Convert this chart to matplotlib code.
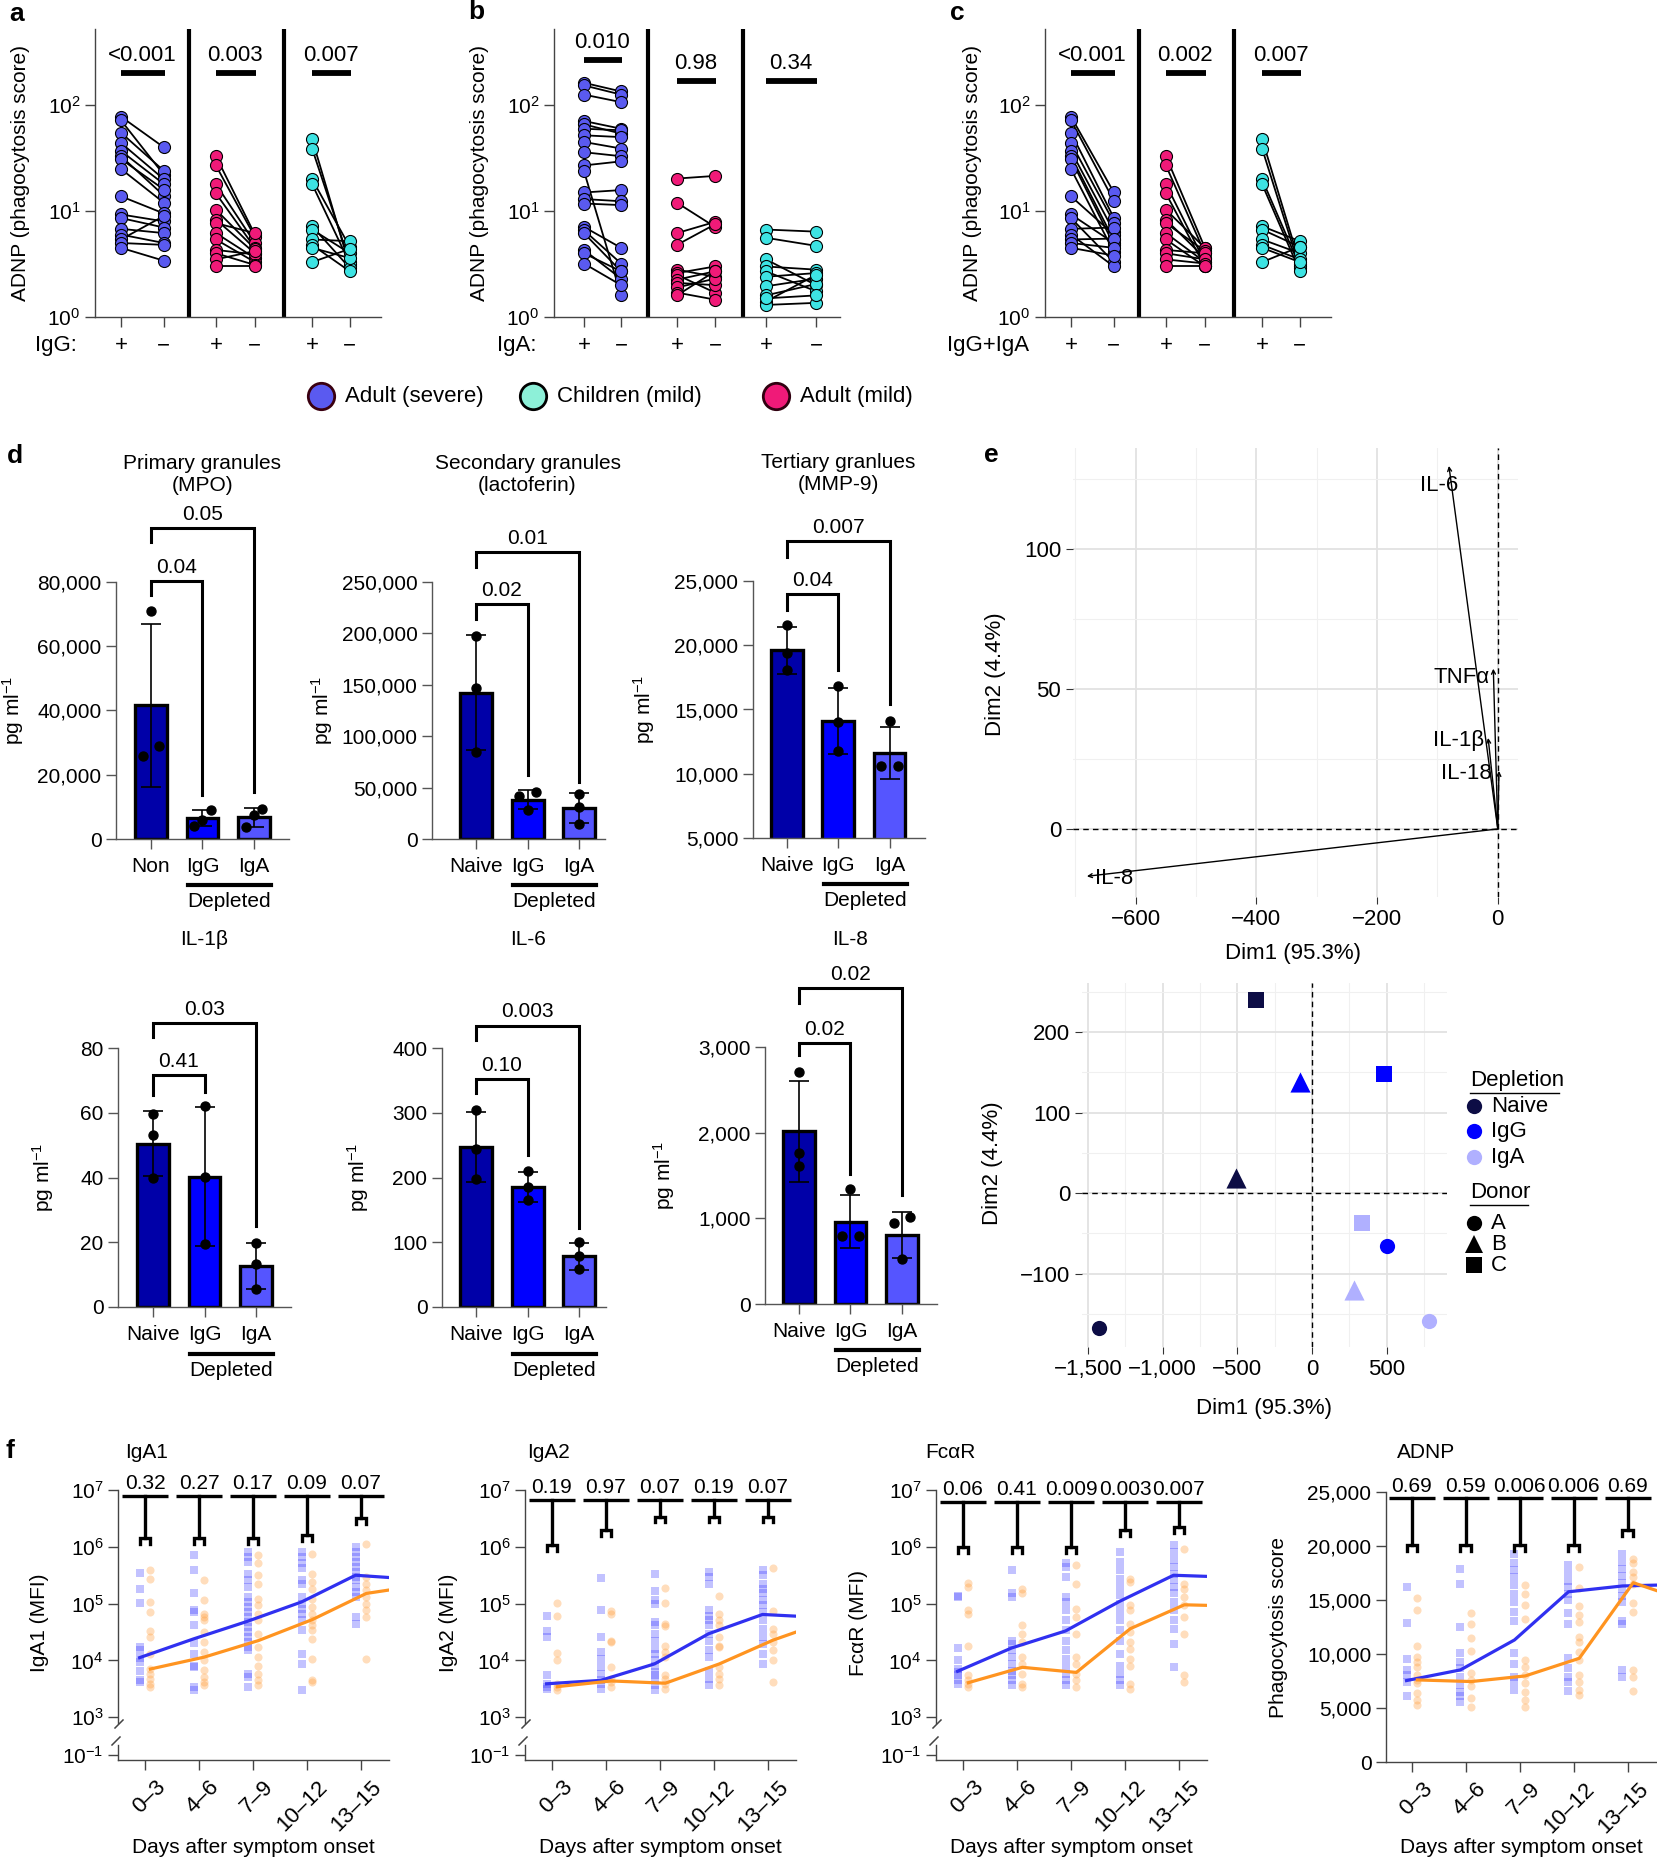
import logging
import numpy as np
import matplotlib
matplotlib.use("Agg")
import matplotlib.pyplot as plt
from matplotlib.ticker import FuncFormatter, NullLocator
from matplotlib.transforms import ScaledTranslation

logging.getLogger("matplotlib.font_manager").setLevel(logging.ERROR)

W, H = 1657, 1860
plt.rcParams['font.family'] = ['Liberation Sans', 'DejaVu Sans']
plt.rcParams['font.size'] = 15
plt.rcParams['mathtext.fontset'] = 'custom'
plt.rcParams['mathtext.rm'] = 'Liberation Sans'
plt.rcParams['mathtext.it'] = 'Liberation Sans:italic'
NARROW = ['Liberation Sans Narrow', 'Liberation Sans', 'DejaVu Sans']
FS = 15

# ---------------- a-c : ADNP, paired +/- depletion ----------------
sev_pos = [78, 72, 55, 44, 37, 33, 31, 25, 13.8, 9.3, 8.6, 6.8, 6.0, 5.4, 5.0, 4.5]
mild_pos = [33, 27, 18, 14.7, 10.3, 8.3, 7.7, 6.2, 5.4, 4.3, 4.0, 3.5, 3.0]
child_pos = [48, 39, 20, 18, 7.2, 6.7, 5.4, 4.8, 4.5, 3.3]

igg_sev_neg = [40, 22, 24, 20, 18, 14, 16, 12, 9.5, 8.0, 7.0, 6.2, 5.0, 9.0, 4.8, 3.4]
igg_mild_neg = [6.0, 5.7, 5.0, 4.5, 4.4, 4.0, 6.2, 3.6, 3.3, 3.9, 3.1, 4.2, 3.0]
igg_child_neg = [3.0, 3.3, 4.6, 3.2, 2.9, 4.0, 5.2, 2.7, 3.6, 4.4]

iga_sev_pos = [163, 154, 126, 71, 66, 60, 52, 45, 36, 27, 24, 15, 13, 11.8, 7.1, 6.6, 6.2, 4.3, 4.0, 3.2]
iga_sev_neg = [135, 126, 107, 60, 54, 58, 50, 39, 33, 29.5, 1.6, 15.8, 12.4, 11.4, 4.5, 3.2, 2.7, 2.3, 2.7, 2.0]
iga_mild_pos = [20.3, 12, 6.2, 4.8, 2.8, 2.6, 2.5, 2.25, 2.1, 1.9, 1.7, 1.6]
iga_mild_neg = [21.5, 7.1, 7.9, 7.5, 2.4, 3.0, 1.7, 2.7, 2.0, 2.3, 1.46, 2.7]
iga_child_pos = [6.7, 5.6, 3.5, 3.0, 2.7, 2.4, 1.95, 1.6, 1.4, 1.3, 1.5]
iga_child_neg = [6.4, 4.7, 2.0, 2.8, 1.75, 2.6, 2.3, 2.05, 2.5, 1.36, 1.6]

both_sev_neg = [15, 12.5, 8.6, 7.8, 6.4, 5.3, 4.8, 4.1, 6.0, 5.0, 3.3, 7.0, 3.0, 5.5, 4.5, 3.8]
both_mild_neg = [4.5, 4.0, 3.3, 3.0, 4.5, 3.6, 4.2, 3.3, 3.0, 4.0, 3.5, 3.2, 3.0]
both_child_neg = [3.2, 2.9, 3.0, 2.7, 5.2, 4.6, 4.0, 3.5, 3.3, 4.6]

p_igg = ['<0.001', '0.003', '0.007']
p_iga = ['0.010', '0.98', '0.34']
p_both = ['<0.001', '0.002', '0.007']

# ---------------- d : granule proteins and cytokines (pg/ml) ----------------
mpo_mean = [41600, 6500, 6800]
mpo_sd = [25300, 2600, 3000]
mpo_dots = [[70900, 29000, 25900], [9100, 6000, 4100], [9300, 7500, 3600]]
lacto_mean = [142300, 38200, 30000]
lacto_sd = [56000, 9500, 14500]
lacto_dots = [[197600, 146500, 85100], [46200, 41400, 28500], [44000, 31000, 15000]]
mmp9_mean = [19600, 14100, 11600]
mmp9_sd = [1800, 2600, 2000]
mmp9_dots = [[21600, 19400, 18050], [16800, 14000, 11760], [14100, 10600, 10600]]
il1b_mean = [50.4, 40.2, 12.7]
il1b_sd = [10.0, 21.5, 7.1]
il1b_dots = [[59.6, 53.1, 40.0], [62.2, 40.2, 19.5], [19.9, 13.4, 5.7]]
il6_mean = [247.7, 185.8, 78]
il6_sd = [54, 23, 21]
il6_dots = [[304.5, 244.6, 197.2], [210.6, 185.8, 165.2], [100, 78, 58]]
il8_mean = [2017, 962, 805]
il8_sd = [590, 314, 265]
il8_dots = [[2708, 1768, 1611], [1340, 791, 791], [1019, 948, 520]]

# bracket: (left bar, right bar, top, left leg end, right leg end, p)
mpo_br = [(0, 1, 80300, 75800, 13800, '0.04'), (0, 2, 96900, 92400, 14500, '0.05')]
lacto_br = [(0, 1, 228300, 214400, 62400, '0.02'), (0, 2, 279100, 264600, 55000, '0.01')]
mmp9_br = [(0, 1, 24000, 22760, 18100, '0.04'), (0, 2, 28100, 26900, 15400, '0.007')]
il1b_br = [(0, 1, 71.7, 65.5, 66.5, '0.41'), (0, 2, 87.7, 83.3, 25.0, '0.03')]
il6_br = [(0, 1, 352, 330, 235, '0.10'), (0, 2, 434.6, 413, 122, '0.003')]
il8_br = [(0, 1, 3050, 2907, 1518, '0.02'), (0, 2, 3692, 3514, 1269, '0.02')]

# ---------------- e : PCA ----------------
load_names = ['IL-6', 'TNFα', 'IL-1β', 'IL-18', 'IL-8']
load_x = [-81, -7.4, -16, 2, -681]
load_y = [129.6, 57.2, 32.5, 20.7, -16.9]
pca_x = [-1429, -512, -372, 500, -80, 479, 783, 283, 336]
pca_y = [-168, 18.6, 240, -65, 138, 148, -159, -120, -37]
pca_depl = ['Naive', 'Naive', 'Naive', 'IgG', 'IgG', 'IgG', 'IgA', 'IgA', 'IgA']
pca_donor = ['A', 'B', 'C', 'A', 'B', 'C', 'A', 'B', 'C']

# ---------------- f : time course (log10 MFI for IgA1/IgA2/FcaR) ----------------
days = ['0–3', '4–6', '7–9', '10–12', '13–15']
iga1_blue = [[5.54, 5.25, 5.01, 4.24, 4.18, 4.05, 3.97, 3.81, 3.66, 3.62],
             [5.86, 5.59, 5.19, 4.89, 4.85, 4.63, 4.31, 4.12, 3.91, 3.88, 3.53, 3.48],
             [5.91, 5.82, 5.74, 5.53, 5.41, 5.29, 5.12, 5.03, 4.94, 4.85, 4.76, 4.68, 4.59, 4.50,
              4.41, 4.32, 4.24, 4.18, 3.76, 3.71, 3.53],
             [5.91, 5.82, 5.71, 5.62, 5.41, 5.35, 5.12, 5.0, 4.91, 4.82, 4.71, 4.53, 4.12, 3.94, 3.48],
             [6.0, 5.91, 5.82, 5.74, 5.65, 5.56, 5.47, 5.41, 5.29, 5.21, 5.12, 4.76, 4.65]]
iga1_orange = [[5.60, 5.44, 5.03, 4.85, 4.52, 4.42, 4.12, 3.85, 3.76, 3.68, 3.59, 3.54],
               [5.42, 5.07, 4.81, 4.76, 4.71, 4.50, 4.32, 4.15, 4.0, 3.84, 3.71, 3.62, 3.56],
               [5.85, 5.71, 5.50, 5.35, 5.09, 4.97, 4.82, 4.71, 4.47, 4.24, 4.06, 3.91, 3.76, 3.65, 3.56],
               [5.88, 5.53, 5.38, 5.26, 5.09, 4.94, 4.82, 4.71, 4.62, 4.53, 4.38, 4.03, 3.65, 3.62],
               [6.05, 5.47, 5.35, 5.24, 5.12, 5.0, 4.88, 4.76, 4.03]]
iga1_blue_line = [4.05, 4.38, 4.69, 5.03, 5.50, 5.46]
iga1_orange_line = [3.85, 4.06, 4.35, 4.72, 5.18, 5.24]
iga1_caps = [6.15, 6.15, 6.15, 6.2, 6.5]
iga1_p = ['0.32', '0.27', '0.17', '0.09', '0.07']

iga2_blue = [[4.78, 4.52, 4.42, 3.74, 3.59, 3.54, 3.50],
             [5.45, 4.89, 4.42, 4.15, 4.03, 3.88, 3.76, 3.65, 3.59, 3.50],
             [5.53, 5.22, 5.06, 4.99, 4.68, 4.62, 4.47, 4.35, 4.21, 4.12, 4.0, 3.91, 3.79, 3.74,
              3.65, 3.56, 3.48],
             [5.56, 5.47, 5.35, 4.88, 4.79, 4.71, 4.62, 4.47, 4.35, 4.18, 4.06, 3.82, 3.68, 3.56],
             [5.59, 5.50, 5.35, 5.26, 5.18, 5.06, 4.97, 4.85, 4.71, 4.56, 4.41, 4.29, 4.12, 3.94]]
iga2_orange = [[5.01, 4.79, 4.13, 4.0, 3.59, 3.53, 3.48],
               [4.87, 4.81, 4.35, 4.32, 3.89, 3.68, 3.62, 3.53],
               [5.28, 5.01, 4.65, 4.60, 4.26, 4.15, 4.06, 3.74, 3.68, 3.59, 3.50],
               [5.13, 4.81, 4.72, 4.62, 4.41, 4.26, 4.24, 3.88, 3.76, 3.68, 3.56],
               [5.63, 4.87, 4.56, 4.47, 4.32, 4.18, 4.0, 3.62]]
iga2_blue_line = [3.59, 3.65, 3.94, 4.47, 4.81, 4.78]
iga2_orange_line = [3.54, 3.64, 3.60, 3.94, 4.36, 4.50]
iga2_caps = [6.03, 6.29, 6.53, 6.53, 6.53]
iga2_p = ['0.19', '0.97', '0.07', '0.19', '0.07']

fcar_blue = [[5.13, 5.11, 4.22, 4.01, 3.85, 3.79, 3.74, 3.65, 3.59],
             [5.60, 5.18, 5.12, 4.35, 4.29, 4.18, 4.06, 3.94, 3.82, 3.74, 3.65, 3.56],
             [5.71, 5.65, 5.47, 5.12, 5.03, 4.88, 4.71, 4.53, 4.35, 4.18, 4.03, 3.88, 3.76, 3.65, 3.56],
             [5.91, 5.74, 5.59, 5.44, 5.29, 5.15, 5.0, 4.85, 4.71, 4.53, 4.35, 4.12, 3.91, 3.76,
              3.65, 3.56],
             [6.03, 5.91, 5.76, 5.65, 5.53, 5.41, 5.29, 5.18, 5.03, 4.88, 4.71, 4.56, 4.29, 3.88]]
fcar_orange = [[5.36, 5.29, 4.88, 4.82, 4.26, 3.74, 3.65, 3.58, 3.53],
               [5.26, 5.19, 4.62, 4.47, 4.32, 4.06, 3.94, 3.76, 3.59, 3.54],
               [5.68, 5.34, 4.91, 4.76, 4.47, 4.06, 3.94, 3.76, 3.65, 3.54],
               [5.44, 5.38, 4.97, 4.88, 4.65, 4.50, 4.32, 4.21, 4.03, 3.91, 3.59, 3.50],
               [5.97, 5.35, 5.26, 5.12, 4.97, 4.76, 4.47, 3.74, 3.62]]
fcar_blue_line = [3.81, 4.22, 4.52, 5.04, 5.50, 5.48]
fcar_orange_line = [3.61, 3.88, 3.79, 4.56, 4.98, 4.97]
fcar_caps = [6.0, 6.0, 6.0, 6.29, 6.35]
fcar_p = ['0.06', '0.41', '0.009', '0.003', '0.007']

adnp_blue = [[16200, 12900, 9500, 8500, 8100, 7450, 6070],
             [17900, 16500, 12500, 10100, 9300, 8700, 7900, 7100, 6500, 6070, 5600],
             [19300, 18400, 17800, 17100, 16400, 15600, 14800, 13900, 13100, 10100, 9100, 7900, 7450, 6700],
             [18200, 17500, 16800, 16200, 15600, 15000, 13800, 12800, 9600, 8700, 7900, 7450, 6600],
             [19300, 18500, 17900, 17200, 16600, 16000, 15400, 14800, 13100, 12800, 8500, 7900]]
adnp_orange = [[15200, 14100, 10700, 9760, 9300, 8840, 8070, 7600, 7300, 6400, 5760, 5300],
               [13800, 12800, 11500, 10300, 8200, 7600, 7000, 5900, 5100],
               [16400, 15600, 14500, 13200, 9450, 8800, 8070, 7300, 6500, 5760, 5100],
               [18100, 16100, 14400, 13600, 13000, 11600, 11100, 10200, 9450, 8070, 7450, 6700, 6200],
               [18800, 18400, 17600, 17100, 16500, 14700, 13900, 8500, 7900, 6600]]
adnp_blue_line = [7540, 8530, 11300, 15760, 16300, 16380]
adnp_orange_line = [7600, 7450, 7970, 9600, 16600, 15860]
adnp_caps = [20070, 20070, 20070, 20070, 21520]
adnp_p = ['0.69', '0.59', '0.006', '0.006', '0.69']

# ---------------- colours ----------------
SEV, CHILD, MILD = '#5A5AF0', '#3DE3E3', '#F01A78'
BAR_COLS = ['#0000A8', '#0000FF', '#5555FF']
PCA_COLS = {'Naive': '#0D0D45', 'IgG': '#0000FF', 'IgA': '#B0B0FF'}
PCA_MARK = {'A': 'o', 'B': '^', 'C': 's'}
PCA_SIZE = {'A': 120, 'B': 210, 'C': 120}
BLUE_F, ORANGE_F = '#3535FF', '#FFA040'
BLUE_L, ORANGE_L = '#3030F0', '#FF9420'

fig = plt.figure(figsize=(W / 100, H / 100), dpi=100)


def px_axes(x0, y0, x1, y1):
    return fig.add_axes([x0 / W, 1 - y1 / H, (x1 - x0) / W, (y1 - y0) / H])


def clean(ax, color='#444444'):
    for side in ('top', 'right'):
        ax.spines[side].set_visible(False)
    for side in ('left', 'bottom'):
        ax.spines[side].set_color(color)
        ax.spines[side].set_linewidth(1.0)
    ax.tick_params(direction='out', length=7, width=1.0, color=color, labelsize=FS)


comma = FuncFormatter(lambda v, _: f'{v:,.0f}'.replace('-', '−'))

# ---------------- panels a-c ----------------
pairs_ac = [(1.0, 2.65), (4.65, 6.15), (8.35, 9.8)]
pairs_b = [(1.15, 2.58), (4.73, 6.19), (8.15, 10.08)]


def paired(x0, groups, pairs, bar_y, pvals, lab_x):
    ax = px_axes(x0, 29, x0 + 286, 317)
    clean(ax)
    ax.set_yscale('log')
    ax.set_ylim(1, 10 ** 2.72)
    ax.set_xlim(0, 11)
    ax.set_yticks([1, 10, 100])
    ax.yaxis.set_minor_locator(NullLocator())
    ticks = []
    for (pos, neg), col, (xp, xn), by, p in zip(groups, [SEV, MILD, CHILD], pairs, bar_y, pvals):
        for a, b in zip(pos, neg):
            ax.plot([xp, xn], [a, b], color='black', lw=1.3, zorder=2)
        ax.scatter([xp] * len(pos), pos, s=75, color=col, edgecolor='black', lw=0.8, zorder=3)
        ax.scatter([xn] * len(neg), neg, s=75, color=col, edgecolor='black', lw=0.8, zorder=3)
        ax.plot([xp, xn + 0.05], [by, by], color='black', lw=4.2, solid_capstyle='butt', clip_on=False)
        ax.annotate(p, ((xp + xn) / 2, by), xytext=(0, 5), textcoords='offset points',
                    ha='center', va='bottom', fontsize=16, annotation_clip=False)
        ticks += [xp, xn]
    for xs in (3.63, 7.28):
        ax.axvline(xs, color='black', lw=3)
    ax.set_xticks(ticks)
    ax.set_xticklabels(['+', '−'] * 3, fontsize=16)
    ax.tick_params(axis='x', pad=6)
    ax.set_ylabel('ADNP (phagocytosis score)', fontsize=FS)
    ax.yaxis.set_label_coords(lab_x, 0.5)


paired(95, [(sev_pos, igg_sev_neg), (mild_pos, igg_mild_neg), (child_pos, igg_child_neg)],
       pairs_ac, [200, 200, 200], p_igg, -0.228)
paired(554, [(iga_sev_pos, iga_sev_neg), (iga_mild_pos, iga_mild_neg), (iga_child_pos, iga_child_neg)],
       pairs_b, [269, 170, 170], p_iga, -0.227)
paired(1045, [(sev_pos, both_sev_neg), (mild_pos, both_mild_neg), (child_pos, both_child_neg)],
       pairs_ac, [200, 200, 200], p_both, -0.22)

# ---------------- panel d ----------------


def spread(vals, span):
    vals = np.asarray(vals, float)
    off = np.zeros(len(vals))
    order = np.argsort(vals)
    clusters, cur = [], [order[0]]
    for k in order[1:]:
        if vals[k] - vals[cur[-1]] < 0.05 * span:
            cur.append(k)
        else:
            clusters.append(cur)
            cur = [k]
    clusters.append(cur)
    for c in clusters:
        if len(c) > 1:
            off[c] = np.linspace(-0.16, 0.16, len(c))
    return off


def bars(rect, xlim, ylim, yticks, first, means, sds, dots, brackets, title, ylab_x):
    ax = px_axes(*rect)
    clean(ax, '#555555')
    xs = np.arange(3)
    ax.bar(xs, means, width=0.62, color=BAR_COLS, edgecolor='black', lw=2.4, zorder=2)
    ax.errorbar(xs, means, yerr=sds, fmt='none', ecolor='black', elinewidth=1.2,
                capsize=7, capthick=1.2, zorder=3)
    span = ylim[1] - ylim[0]
    for x, d in zip(xs, dots):
        ax.scatter(x + spread(d, span), d, s=42, color='black', zorder=4)
    for i, j, top, lb, rb, p in brackets:
        ax.plot([i, i, j, j], [lb, top, top, rb], color='black', lw=2.2, clip_on=False,
                solid_joinstyle='miter')
        ax.annotate(p, ((i + j) / 2, top), xytext=(0, 3), textcoords='offset points',
                    ha='center', va='bottom', fontsize=FS, annotation_clip=False)
    ax.set_xlim(*xlim)
    ax.set_ylim(*ylim)
    ax.set_yticks(yticks)
    ax.yaxis.set_major_formatter(comma)
    ax.set_xticks(xs)
    ax.set_xticklabels([first, 'IgG', 'IgA'], fontsize=FS)
    ax.tick_params(axis='x', pad=6)
    tr = ax.get_xaxis_transform()
    ax.plot([0.72, 2.33], [-0.18, -0.18], color='black', lw=3, transform=tr, clip_on=False)
    ax.text(1.52, -0.245, 'Depleted', transform=tr, ha='center', va='center', fontsize=FS)
    ax.text(1, 1.42, title, transform=tr, ha='center', va='center', fontsize=FS, linespacing=1.2)
    ax.set_ylabel('pg ml$^{-1}$', fontsize=FS)
    ax.yaxis.set_label_coords(ylab_x, 0.5)


bars((116, 582, 289, 839), (-0.68, 2.68), (0, 80000), range(0, 80001, 20000), 'Non',
     mpo_mean, mpo_sd, mpo_dots, mpo_br, 'Primary granules\n(MPO)', -0.52)
bars((432, 582, 605, 839), (-0.85, 2.5), (0, 250000), range(0, 250001, 50000), 'Naive',
     lacto_mean, lacto_sd, lacto_dots, lacto_br, 'Secondary granules\n(lactoferin)', -0.56)
bars((753, 581, 925, 838), (-0.66, 2.69), (5000, 25000), range(5000, 25001, 5000), 'Naive',
     mmp9_mean, mmp9_sd, mmp9_dots, mmp9_br, 'Tertiary granlues\n(MMP-9)', -0.56)
bars((118, 1048, 291, 1307), (-0.68, 2.68), (0, 80), range(0, 81, 20), 'Naive',
     il1b_mean, il1b_sd, il1b_dots, il1b_br, 'IL-1β', -0.36)
bars((442, 1048, 606, 1307), (-0.66, 2.52), (0, 400), range(0, 401, 100), 'Naive',
     il6_mean, il6_sd, il6_dots, il6_br, 'IL-6', -0.43)
bars((765, 1047, 937, 1304), (-0.66, 2.68), (0, 3000), range(0, 3001, 1000), 'Naive',
     il8_mean, il8_sd, il8_dots, il8_br, 'IL-8', -0.51)

# ---------------- panel e ----------------


def gg(ax, xmaj, xmin, ymaj, ymin):
    for s in ax.spines.values():
        s.set_visible(False)
    ax.set_xticks(xmaj)
    ax.set_xticks(xmin, minor=True)
    ax.set_yticks(ymaj)
    ax.set_yticks(ymin, minor=True)
    ax.grid(True, which='major', color='#E2E2E2', lw=1.3)
    ax.grid(True, which='minor', color='#F0F0F0', lw=0.8)
    ax.set_axisbelow(True)
    ax.tick_params(which='major', length=5, width=0.8, color='#333333', labelsize=16)
    ax.tick_params(which='minor', length=0)
    ax.axhline(0, color='black', ls=(0, (4, 3)), lw=1)
    ax.axvline(0, color='black', ls=(0, (4, 3)), lw=1)
    ax.xaxis.set_major_formatter(comma)
    ax.yaxis.set_major_formatter(comma)
    plt.setp(ax.get_xticklabels() + ax.get_yticklabels(), family=NARROW)
    ax.set_xlabel('Dim1 (95.3%)', fontsize=16, family=NARROW)
    ax.set_ylabel('Dim2 (4.4%)', fontsize=16, family=NARROW)


ae = px_axes(1073, 448, 1518, 897)
ae.set_xlim(-704, 33.5)
ae.set_ylim(-24.3, 136)
gg(ae, [-600, -400, -200, 0], [-700, -500, -300, -100], [0, 50, 100], [25, 75, 125])
ae.xaxis.set_label_coords(0.494, -0.102)
ae.yaxis.set_label_coords(-0.15, 0.497)
lab_off = [(-10, -20), (-32, -9), (-30, -3), (-33, -3), (27, -2)]
for name, x, y, (dx, dy) in zip(load_names, load_x, load_y, lab_off):
    ae.annotate('', xy=(x, y), xytext=(0, 0),
                arrowprops=dict(arrowstyle='->', color='black', lw=1.0, shrinkA=0, shrinkB=0,
                                mutation_scale=7))
    ae.annotate(name, (x, y), xytext=(dx, dy), textcoords='offset pixels', ha='center',
                va='center', fontsize=16, family=NARROW)

be = px_axes(1082, 983, 1447, 1347)
be.set_xlim(-1540, 904)
be.set_ylim(-191, 261)
gg(be, [-1500, -1000, -500, 0, 500], [-1250, -750, -250, 250, 750],
   [-100, 0, 100, 200], [-150, -50, 50, 150, 250])
be.xaxis.set_label_coords(0.5, -0.14)
be.yaxis.set_label_coords(-0.216, 0.505)
for x, y, dpl, dn in zip(pca_x, pca_y, pca_depl, pca_donor):
    be.scatter(x, y, s=PCA_SIZE[dn], marker=PCA_MARK[dn], color=PCA_COLS[dpl], lw=0, zorder=3)

# ---------------- panel f ----------------


def trend(ax, blue, orange, bl, ol, conv, top, caps, drop, pvals):
    xmax = ax.get_xlim()[1]
    for i, (b, o) in enumerate(zip(blue, orange)):
        ax.scatter(np.full(len(b), i - 0.1), conv(b), marker='s', s=28, color=BLUE_F,
                   alpha=0.3, lw=0, zorder=2)
        ax.scatter(np.full(len(o), i + 0.1), conv(o), marker='o', s=34, color=ORANGE_F,
                   alpha=0.35, lw=0, zorder=2)
    xs = np.arange(5)
    ax.plot(np.r_[xs - 0.1, xmax], conv(bl), color=BLUE_L, lw=2.3, zorder=3)
    ax.plot(np.r_[xs + 0.1, xmax], conv(ol), color=ORANGE_L, lw=2.3, zorder=3)
    t = conv(top)
    for i, (c, p) in enumerate(zip(caps, pvals)):
        cv, lo = conv(c), conv(drop(c))
        ax.plot([i - 0.42, i + 0.42], [t, t], color='black', lw=2.4, solid_capstyle='butt',
                clip_on=False)
        ax.plot([i, i], [t, cv], color='black', lw=2.4, clip_on=False)
        ax.plot([i - 0.1, i - 0.1, i + 0.1, i + 0.1], [lo, cv, cv, lo], color='black', lw=2.4,
                solid_joinstyle='miter', clip_on=False)
        ax.annotate(p, (i, t), xytext=(0, 2), textcoords='offset points', ha='center',
                    va='bottom', fontsize=FS, annotation_clip=False)


def day_ticks(ax):
    ax.set_xticks(range(5))
    ax.set_xticklabels(days, rotation=45, ha='right', va='top', rotation_mode='anchor', fontsize=16)
    for lbl in ax.get_xticklabels():
        lbl.set_transform(lbl.get_transform() + ScaledTranslation(0.1, -0.02, fig.dpi_scale_trans))
    ax.set_xlabel('Days after symptom onset', fontsize=FS)


def log_panel(x0, blue, orange, bl, ol, top, caps, pvals, ylabel, lab_x):
    x1 = x0 + 271
    main = px_axes(x0, 1490, x1, 1723)
    low = px_axes(x0, 1745, x1, 1760)
    for ax in (main, low):
        clean(ax)
        ax.set_yscale('log')
        ax.set_xlim(-0.5, 4.52)
    main.spines['bottom'].set_visible(False)
    main.set_ylim(10 ** 2.9, 1e7)
    main.set_yticks([1e3, 1e4, 1e5, 1e6, 1e7])
    main.yaxis.set_minor_locator(NullLocator())
    main.set_xticks([])
    low.set_ylim(10 ** -1.088, 10 ** -0.824)
    low.set_yticks([0.1])
    low.yaxis.set_minor_locator(NullLocator())
    trend(main, blue, orange, bl, ol, lambda v: 10 ** np.asarray(v, float), top, caps,
          lambda c: c - 0.1, pvals)
    main.set_ylabel(ylabel, fontsize=FS)
    main.yaxis.set_label_coords(lab_x, 0.43)
    day_ticks(low)
    low.xaxis.set_label_coords(0.5, -5.2)


log_panel(118, iga1_blue, iga1_orange, iga1_blue_line, iga1_orange_line, 6.89, iga1_caps,
          iga1_p, 'IgA1 (MFI)', -0.255)
log_panel(525, iga2_blue, iga2_orange, iga2_blue_line, iga2_orange_line, 6.82, iga2_caps,
          iga2_p, 'IgA2 (MFI)', -0.247)
log_panel(936, fcar_blue, fcar_orange, fcar_blue_line, fcar_orange_line, 6.79, fcar_caps,
          fcar_p, 'FcαR (MFI)', -0.25)

ad = px_axes(1386, 1492, 1657, 1762)
clean(ad)
ad.set_xlim(-0.48, 4.54)
ad.set_ylim(0, 25000)
ad.set_yticks(range(0, 25001, 5000))
ad.yaxis.set_major_formatter(comma)
trend(ad, adnp_blue, adnp_orange, adnp_blue_line, adnp_orange_line, lambda v: np.asarray(v, float),
      24400, adnp_caps, lambda c: c - 550, adnp_p)
ad.set_ylabel('Phagocytosis score', fontsize=FS)
ad.yaxis.set_label_coords(-0.36, 0.5)
day_ticks(ad)
ad.xaxis.set_label_coords(0.5, -0.28)

# ---------------- overlay: letters, legends, axis breaks ----------------
ov = fig.add_axes([0, 0, 1, 1])
ov.set_xlim(0, W)
ov.set_ylim(H, 0)
ov.axis('off')

for x, y, s in [(9, 14, 'a'), (468, 12, 'b'), (950, 13, 'c'), (7, 456, 'd'), (984, 455, 'e'),
                (6, 1451, 'f')]:
    ov.text(x, y, s, fontsize=19, fontweight='bold', ha='left', va='center')

for x, s in [(56, 'IgG:'), (517, 'IgA:'), (988, 'IgG+IgA')]:
    ov.text(x, 346, s, fontsize=16, ha='center', va='center')

for mx, face, edge, label in [(321, SEV, '#3A0010', 'Adult (severe)'),
                              (533, '#8DF0D8', 'black', 'Children (mild)'),
                              (776, MILD, '#300010', 'Adult (mild)')]:
    ov.plot(mx, 396, 'o', ms=19, mfc=face, mec=edge, mew=2)
    ov.text(mx + 24, 396, label, fontsize=16, va='center', ha='left')

for x0, s in [(125, 'IgA1'), (527, 'IgA2'), (925, 'FcαR'), (1397, 'ADNP')]:
    ov.text(x0, 1452, s, fontsize=FS, ha='left', va='center')

for sx in (118, 525, 936):
    ov.plot([sx - 3, sx + 5], [1728, 1720], color='#444444', lw=1.1)
    ov.plot([sx - 6, sx + 2], [1745, 1737], color='#444444', lw=1.1)

ov.text(1470, 1080, 'Depletion', fontsize=16, family=NARROW, va='center', ha='left')
ov.plot([1470, 1559], [1093, 1093], color='black', lw=1)
for y, key in [(1106, 'Naive'), (1131, 'IgG'), (1157, 'IgA')]:
    ov.plot(1474, y, 'o', ms=11, color=PCA_COLS[key], mew=0)
    ov.text(1491, y, key, fontsize=16, family=NARROW, va='center', ha='left')
ov.text(1470, 1192, 'Donor', fontsize=16, family=NARROW, va='center', ha='left')
ov.plot([1470, 1528], [1205, 1205], color='black', lw=1)
for y, key, ms in [(1223, 'A', 11), (1244, 'B', 13), (1265, 'C', 11)]:
    ov.plot(1474, y, PCA_MARK[key], ms=ms, color='black', mew=0)
    ov.text(1491, y, key, fontsize=16, family=NARROW, va='center', ha='left')

fig.savefig('out.png', dpi=100)
